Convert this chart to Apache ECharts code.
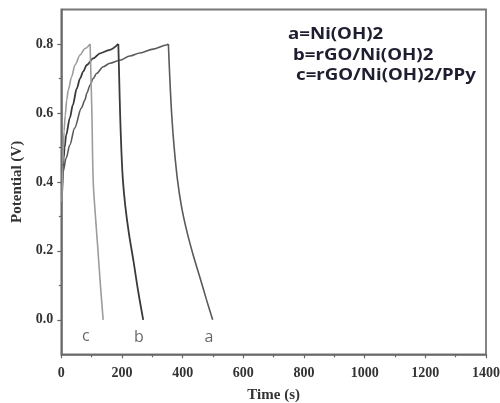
<!DOCTYPE html>
<html>
<head>
<meta charset="utf-8">
<script src="https://cdn.jsdelivr.net/npm/echarts@6/dist/echarts.min.js"></script>
<style>html,body{margin:0;padding:0;background:#fff;}#c{width:500px;height:403px;}</style>
</head>
<body>
<div id="c"></div>
<script>
// Galvanostatic charge–discharge curves: [time (s), potential (V)]
const curveA = [[2,0.34],[6,0.43],[16,0.469],[28,0.507],[44,0.556],[66,0.614],[78,0.638],[84,0.657],[95,0.681],[105,0.70],[117,0.715],[138,0.734],[160,0.744],[193,0.753],[226,0.765],[259,0.774],[303,0.785],[347,0.797],[353,0.8],
  [358,0.696],[364,0.594],[372,0.5],[383,0.406],[396,0.33],[413,0.26],[434,0.19],[458,0.12],[478,0.06],[499,0.0]];
const curveB = [[2,0.34],[5,0.43],[8,0.47],[11,0.5],[16,0.536],[28,0.585],[38,0.623],[51,0.671],[62,0.70],[72,0.72],[84,0.739],[105,0.758],[128,0.773],[160,0.783],[188,0.8],
  [191,0.696],[194,0.594],[198,0.493],[203,0.406],[211,0.33],[223,0.25],[238,0.17],[253,0.085],[270,0.0]];
const curveC = [[2,0.34],[5,0.45],[7,0.5],[9,0.546],[13,0.594],[18,0.638],[23,0.667],[34,0.705],[45,0.739],[62,0.768],[78,0.787],[95,0.8],
  [98,0.696],[101,0.594],[105,0.406],[111,0.319],[120,0.212],[129,0.1],[138,0.0]];
const curveLetters = [['c',81,-0.048],['b',256,-0.052],['a',487,-0.052]];
const legendLines = ['a=Ni(OH)2','b=rGO/Ni(OH)2','c=rGO/Ni(OH)2/PPy'];
const xTicks = [0,200,400,600,800,1000,1200,1400];
const yTicks = [0,0.2,0.4,0.6,0.8];
const yMinor = [0.1,0.3,0.5,0.7];

const chart = echarts.init(document.getElementById('c'));
const serif = '"Liberation Serif", "DejaVu Serif", serif';
const axisGray = '#666';
const lbl = {fontFamily: serif, fontWeight: 'bold', fontSize: 14, color: '#333'};

// split each curve at its peak into a charge and a discharge branch
function branches(data, color, width) {
  let pk = 0;
  data.forEach((d, i) => { if (d[1] >= data[pk][1]) pk = i; });
  const base = {type: 'line', showSymbol: false, lineStyle: {color: color, width: width}};
  return [
    Object.assign({}, base, {data: data.slice(0, pk + 1), smooth: 0.3, smoothMonotone: 'x'}),
    Object.assign({}, base, {data: data.slice(pk), smooth: 0.35})
  ];
}

chart.setOption({
  animation: false,
  backgroundColor: '#fff',
  grid: {left: 61.3, right: 14, top: 9.5, bottom: 48.7, containLabel: false, outerBoundsMode: 'none',
    show: true, borderColor: '#777', borderWidth: 1.8, backgroundColor: 'transparent'},
  xAxis: {
    type: 'value', min: 0, max: 1400, interval: 200,
    name: 'Time (s)', nameLocation: 'middle', nameGap: 33,
    nameTextStyle: {fontFamily: serif, fontWeight: 'bold', fontSize: 15, color: '#333'},
    axisLine: {show: true, onZero: false, lineStyle: {color: axisGray, width: 1.5}},
    axisTick: {show: true, inside: false, length: 4, lineStyle: {color: axisGray, width: 1.2}},
    minorTick: {show: true, splitNumber: 2, length: 3, lineStyle: {color: axisGray, width: 1.2}},
    splitLine: {show: false},
    axisLabel: Object.assign({margin: 12, formatter: v => xTicks.includes(v) ? String(v) : ''}, lbl)
  },
  yAxis: [{
    type: 'value', min: -0.1, max: 0.9,
    name: 'Potential (V)', nameLocation: 'middle', nameGap: 35, nameRotate: 90,
    nameTextStyle: {fontFamily: serif, fontWeight: 'bold', fontSize: 15, color: '#333'},
    axisLine: {show: true, onZero: false, lineStyle: {color: axisGray, width: 1.5}},
    axisTick: {show: true, length: 4, customValues: yTicks, lineStyle: {color: axisGray, width: 1.2}},
    splitLine: {show: false},
    axisLabel: Object.assign({margin: 8, customValues: yTicks, formatter: v => v.toFixed(1)}, lbl)
  }, {
    type: 'value', min: -0.1, max: 0.9, position: 'left',
    axisLine: {show: false, onZero: false},
    axisTick: {show: true, length: 2.5, customValues: yMinor, lineStyle: {color: axisGray, width: 1.2}},
    axisLabel: {show: false},
    splitLine: {show: false}
  }],
  series: [].concat(
    branches(curveA, '#5a5a5a', 1.6),
    branches(curveB, '#3a3a3a', 1.8),
    branches(curveC, '#9c9c9c', 1.6),
    [{type: 'scatter', data: curveLetters.map(d => ({value: [d[1], d[2]], name: d[0]})), symbolSize: 0, silent: true,
      label: {show: true, position: 'inside', formatter: p => p.name, fontFamily: '"Open Sans", "Noto Sans", sans-serif', fontSize: 16, color: '#444'}}]
  ),
  graphic: legendLines.map((t, i) => ({
    type: 'text', x: [288, 293, 296][i], y: [26, 47, 67][i], scaleX: 1.17,
    style: {text: t, fontFamily: '"Noto Sans", "Open Sans", sans-serif', fontWeight: 'bold', fontSize: 16, fill: '#1e1e30'}
  }))
});
</script>
</body>
</html>
